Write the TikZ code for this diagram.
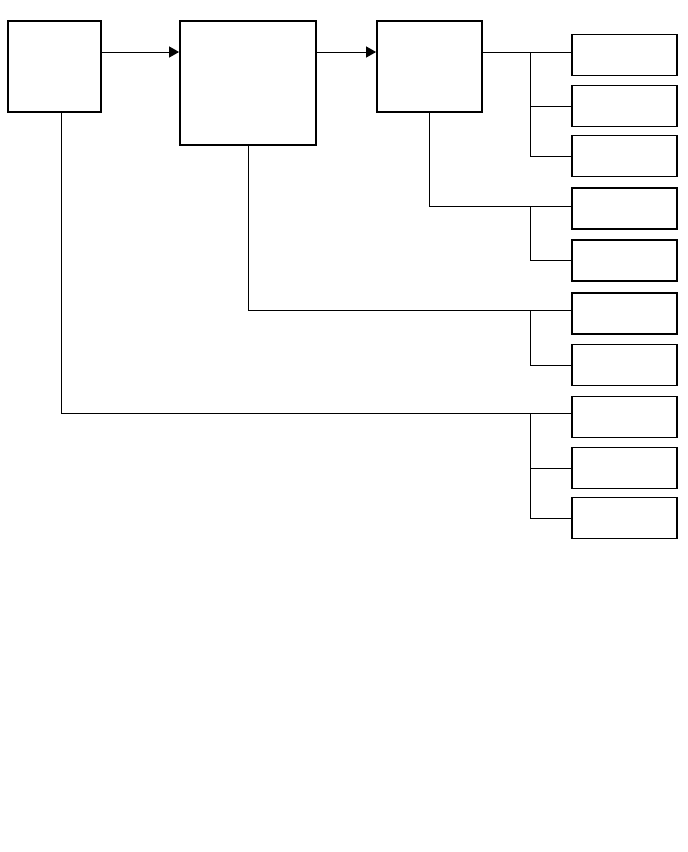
\documentclass[tikz,border=0pt]{standalone}
\usetikzlibrary{arrows.meta}
\begin{document}
\begin{tikzpicture}[x=1pt,y=-1pt,
  box/.style={draw,line width=1.8pt,inner sep=0pt,minimum width=#1},
  leaf/.style={draw,line width=1.8pt,inner sep=0pt,minimum width=105pt,minimum height=41pt},
  conn/.style={line width=1pt},
  arr/.style={conn,-{Triangle[length=10pt,width=11pt]}}]
\useasboundingbox (0,0) rectangle (688,852);
\node[box=93pt,minimum height=91pt] (A) at (54.5,66.5) {};
\node[box=136pt,minimum height=124pt] (B) at (248,83) {};
\node[box=105pt,minimum height=91pt] (C) at (429.5,66.5) {};
\node[leaf] (R1) at (624.5,55) {};
\node[leaf] (R2) at (624.5,106) {};
\node[leaf] (R3) at (624.5,156) {};
\node[leaf] (R4) at (624.5,208.5) {};
\node[leaf] (R5) at (624.5,260.5) {};
\node[leaf] (R6) at (624.5,313.5) {};
\node[leaf] (R7) at (624.5,365) {};
\node[leaf] (R8) at (624.5,417) {};
\node[leaf] (R9) at (624.5,468) {};
\node[leaf] (R10) at (624.5,518) {};
\coordinate (h) at (0,52);
\coordinate (j1) at (530,52);
\coordinate (j2) at (530,206);
\coordinate (j3) at (530,310);
\coordinate (j4) at (530,413);
\coordinate (a0) at (61,111.5);
\draw[arr] (A.east |- h) -- (B.west |- h);
\draw[arr] (B.east |- h) -- (C.west |- h);
\draw[conn] (C.east |- h) -- (R1.west |- h);
\draw[conn] (j1) |- (R2.west);
\draw[conn] (j1) |- (R3.west);
\draw[conn] (C.south) |- (R4.west |- j2);
\draw[conn] (j2) |- (R5.west);
\draw[conn] (B.south) |- (R6.west |- j3);
\draw[conn] (j3) |- (R7.west);
\draw[conn] (a0) |- (R8.west |- j4);
\draw[conn] (j4) |- (R9.west);
\draw[conn] (j4) |- (R10.west);
\end{tikzpicture}
\end{document}
